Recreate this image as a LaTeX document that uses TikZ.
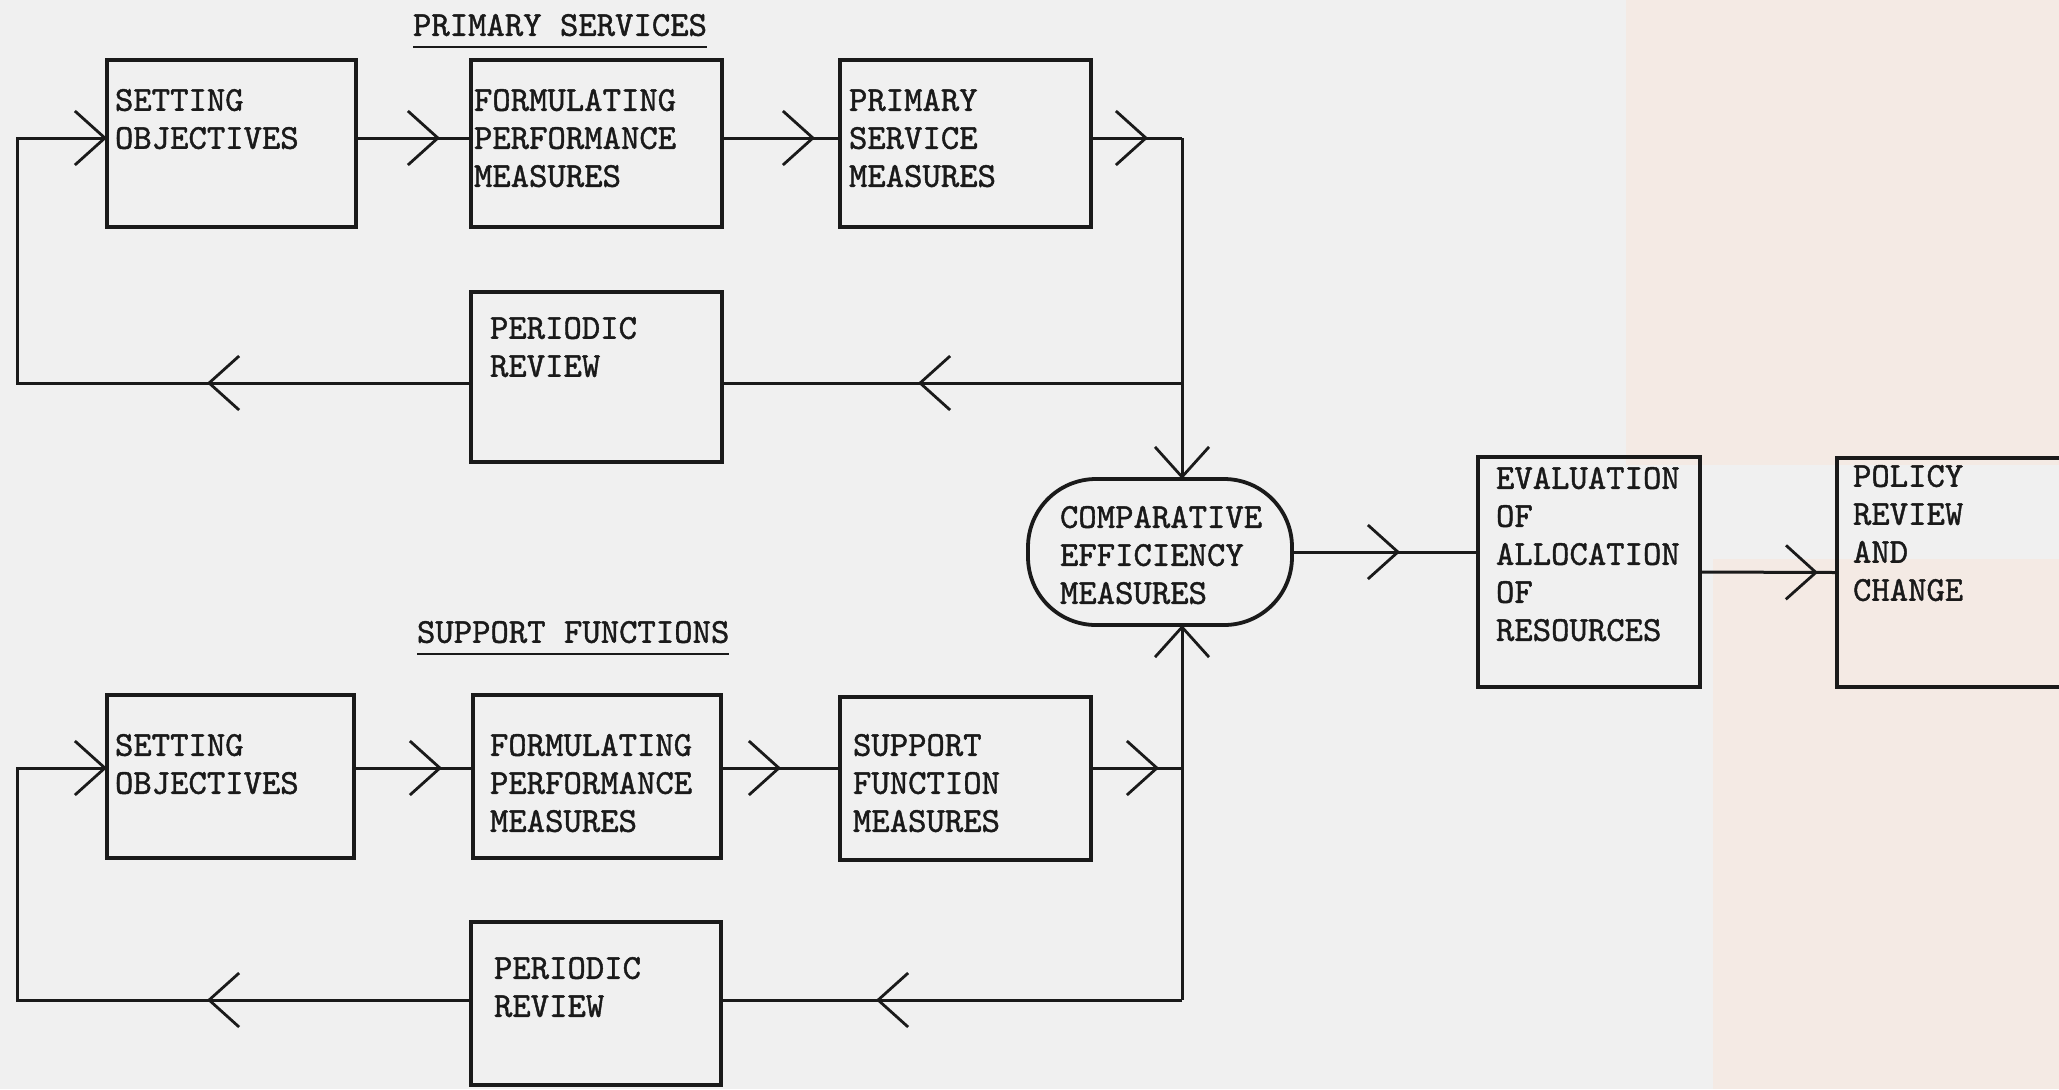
\documentclass[tikz,border=0pt]{standalone}
\usepackage{fontspec}
\newfontfamily\tw{lmmono10-regular}[Extension=.otf, FakeBold=1.2]
\usetikzlibrary{arrows.meta,decorations.markings}
\definecolor{paper}{HTML}{F0F0F0}
\definecolor{tint}{HTML}{F4EAE4}
\definecolor{ink}{HTML}{1A1A1A}
\tikzset{
  box/.style={draw=ink, line width=1.9pt, rectangle, inner sep=0pt, outer sep=0pt},
  txt/.style={anchor=north west, inner sep=0pt, outer sep=0pt, align=left,
              text=ink, font=\tw\fontsize{17.5}{19}\selectfont},
  flow/.style={draw=ink, line width=1.5pt},
  ulin/.style={draw=ink, line width=1.3pt},
  barb/.tip={Straight Barb[length=15pt,width=27pt,line width=1.4pt]},
  vtip/.style={postaction={decorate},
               decoration={markings, mark=at position #1 with {\arrow{barb}}}},
  tipend/.style={-barb},
}
\begin{document}
\begin{tikzpicture}[x=0.5pt, y=-0.5pt]
  \useasboundingbox (0,0) rectangle (2059,1089);
  \clip (0,0) rectangle (2059,1089);

  % paper
  \fill[paper] (0,0) rectangle (2059,1089);
  \fill[tint] (1626,0) rectangle (2059,465);
  \fill[tint] (1713,559) rectangle (2059,1089);

  % primary services row
  \node[txt] (lps) at (413,14) {PRIMARY SERVICES};
  \draw[ulin] ([yshift=-5.5pt]lps.south west) -- ([yshift=-5.5pt]lps.south east);

  \node[box, minimum width=124.5pt, minimum height=83.5pt] (s1) at (231.5,143.5) {};
  \node[box, minimum width=125.5pt, minimum height=83.5pt] (f1) at (596.5,143.5) {};
  \node[box, minimum width=125.5pt, minimum height=83.5pt] (p1) at (965.5,143.5) {};
  \node[box, minimum width=125.5pt, minimum height=85pt]   (r1) at (596.5,377) {};

  \node[txt] (ts1) at (115,89)  {SETTING\\OBJECTIVES};
  \node[txt] (tf1) at (474,89)  {FORMULATING\\PERFORMANCE\\MEASURES};
  \node[txt] (tp1) at (849,89)  {PRIMARY\\SERVICE\\MEASURES};
  \node[txt] (tr1) at (490,317) {PERIODIC\\REVIEW};

  % support functions row
  \node[txt] (lsf) at (417,621) {SUPPORT FUNCTIONS};
  \draw[ulin] ([yshift=-5.5pt]lsf.south west) -- ([yshift=-5.5pt]lsf.south east);

  \node[box, minimum width=123.5pt, minimum height=81.5pt] (s2) at (230.5,776.5) {};
  \node[box, minimum width=124pt,   minimum height=81.5pt] (f2) at (597,776.5) {};
  \node[box, minimum width=125.5pt, minimum height=81.5pt] (p2) at (965.5,778.5) {};
  \node[box, minimum width=125pt,   minimum height=81.5pt] (r2) at (596,1003.5) {};

  \node[txt] (ts2) at (115,734) {SETTING\\OBJECTIVES};
  \node[txt] (tf2) at (490,734) {FORMULATING\\PERFORMANCE\\MEASURES};
  \node[txt] (tp2) at (853,734) {SUPPORT\\FUNCTION\\MEASURES};
  \node[txt] (tr2) at (494,957) {PERIODIC\\REVIEW};

  % comparison, evaluation, policy
  \node[box, rounded corners=34pt, minimum width=132pt, minimum height=73pt] (cm) at (1160,552) {};
  \node[txt] (tcm) at (1060,506) {COMPARATIVE\\EFFICIENCY\\MEASURES};

  \node[box, minimum width=111pt, minimum height=115pt] (ev) at (1589,572) {};
  \node[txt] (tev) at (1496,467) {EVALUATION\\OF\\ALLOCATION\\OF\\RESOURCES};

  \node[box, minimum width=131.5pt, minimum height=114.5pt] (pol) at (1968.5,572.5) {};
  \node[txt] (tpol) at (1853,465) {POLICY\\REVIEW\\AND\\CHANGE};

  % junctions and loop corners
  \coordinate (jt) at (1182,138);
  \coordinate (jl) at (1182,383);
  \coordinate (lt) at (17,383);
  \coordinate (lu) at (17,138);
  \coordinate (jb) at (1182,768);
  \coordinate (jd) at (1182,1000);
  \coordinate (ld) at (17,1000);
  \coordinate (lv) at (17,768);

  % primary services flow
  \draw[flow, vtip=-15.5pt] (s1.east |- jt) -- (f1.west |- jt);
  \draw[flow, vtip=-12.5pt] (f1.east |- jt) -- (p1.west |- jt);
  \draw[flow, vtip=-17pt]   (p1.east |- jt) -- (jt);
  \draw[flow, tipend]       (jt) -- (jt |- cm.north);
  \draw[flow, vtip=-98pt]   (jl) -- (r1.east |- jl);
  \draw[flow, vtip=132pt, tipend] (r1.west |- jl) -- (lt) -- (lu) -- (s1.west |- lu);

  % support functions flow
  \draw[flow, vtip=-15.5pt] (s2.east |- jb) -- (f2.west |- jb);
  \draw[flow, vtip=-29.5pt] (f2.east |- jb) -- (p2.west |- jb);
  \draw[flow, vtip=-11.5pt] (p2.east |- jb) -- (jb);
  \draw[flow, tipend]       (jd) -- (jd |- cm.south);
  \draw[flow, vtip=-77.5pt] (jd) -- (r2.east |- jd);
  \draw[flow, vtip=132pt, tipend] (r2.west |- jd) -- (ld) -- (lv) -- (s2.west |- lv);

  % evaluation chain
  \draw[flow, vtip=-39pt]  (cm.east) -- (ev.west |- cm.east);
  \draw[flow, vtip=-9.5pt] (ev.east) -- (pol.west);
\end{tikzpicture}
\end{document}
